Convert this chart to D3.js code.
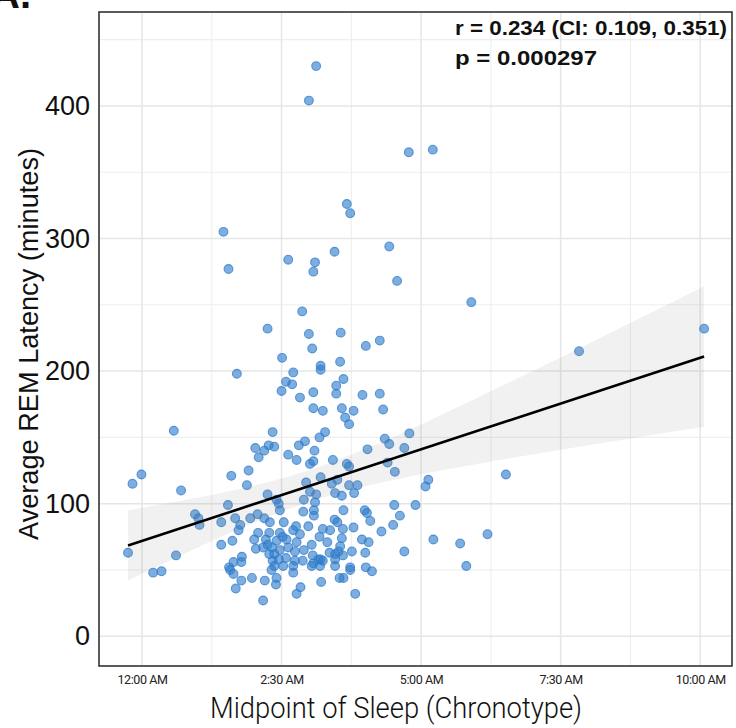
<!DOCTYPE html>
<html>
<head>
<meta charset="utf-8">
<script src="https://cdn.jsdelivr.net/npm/d3@7"></script>
<style>
  body { margin: 0; background: #fff; }
  svg { display: block; }
</style>
</head>
<body>
<svg id="chart" width="736" height="728"></svg>
<script>
// midpoint of sleep, hours after midnight (negative = before midnight)
var midSleep = [
  3.12, 2.99, 4.78, 5.21, 3.67, 3.73, 1.46, 3.45, 4.43, 2.62, 3.10, 3.07, 1.55, 4.57, 5.90, 2.87,
  2.25, 2.99, 3.56, 4.01, 4.26, 3.05, 2.51, 3.20, 3.55, 7.83, 10.07, 1.70, 2.71, 2.58, 2.69, 2.50,
  2.83, 2.34, 2.03, 2.19, 2.27, 2.37, 2.09, 2.62, 2.77, 2.81, 2.92, 1.91, 1.60, 1.88, 0.70, 2.25,
  2.94, 3.20, 3.61, 3.48, 3.48, 3.07, 3.95, 4.26, 3.07, 3.24, 3.58, 3.79, 3.64, 3.71, 4.32, 3.28,
  3.18, 3.09, 3.07, 3.01, 3.42, 3.67, 3.71, 4.04, 4.35, 4.43, 4.79, 4.70, 4.40, 4.53, 3.20, 3.50,
  3.40, 3.71, 3.86, 3.01, 3.12, 3.46, 3.58, 3.80, 5.13, 5.08, 6.52, 5.22, 5.70, 6.19, 5.81, 0.57,
  -0.01, -0.17, -0.25, 0.61, 0.20, 0.35, 2.41, 2.45, 2.47, 2.90, 2.89, 1.54, 0.95, 1.01, 1.03, 1.42,
  1.67, 1.76, 1.73, 1.94, 2.07, 2.19, 2.29, 2.54, 2.76, 2.08, 2.28, 2.47, 2.52, 2.71, 2.83, 2.01,
  2.22, 2.25, 2.41, 2.59, 2.77, 1.42, 1.62, 2.04, 2.17, 2.33, 2.47, 2.62, 2.74, 2.90, 2.28, 2.37,
  2.45, 2.58, 2.74, 2.88, 1.79, 1.78, 1.64, 1.56, 1.58, 1.64, 2.34, 2.37, 2.53, 2.71, 2.71, 2.32,
  1.78, 1.97, 2.20, 2.41, 2.40, 1.68, 2.77, 2.84, 2.17, 3.10, 3.08, 3.08, 3.61, 3.99, 4.03, 4.09,
  4.52, 4.90, 4.62, 4.50, 4.29, 3.45, 3.50, 2.98, 3.24, 3.37, 3.60, 3.79, 3.18, 3.32, 3.58, 3.94,
  4.06, 3.04, 3.55, 3.52, 3.36, 3.76, 4.00, 4.70, 3.06, 3.16, 3.20, 3.24, 3.46, 3.60, 3.07, 3.19,
  3.46, 3.46, 3.73, 3.73, 4.01, 4.12, 3.04, 3.21, 3.54, 3.61, 3.82
];
// average REM latency, minutes
var remLatency = [
  430, 404, 365, 367, 326, 319, 305, 290, 294, 284, 282, 275, 277, 268, 252, 245,
  232, 228, 229, 219, 223, 217, 210, 204, 207, 215, 232, 198, 199, 192, 190, 185,
  180, 154, 142, 140, 144, 143, 135, 137, 133, 144, 147, 125, 121, 114, 110, 107,
  116, 201, 194, 189, 183, 184, 182, 183, 172, 170, 172, 170, 165, 160, 171, 154,
  150, 140, 132, 130, 133, 130, 128, 141, 149, 145, 153, 142, 131, 124, 120, 118,
  115, 114, 114, 109, 107, 108, 106, 108, 118, 113, 122, 73, 70, 77, 53, 155,
  122, 115, 63, 61, 48, 49, 103, 100, 95, 103, 94, 99, 92, 89, 84, 86,
  89, 84, 80, 89, 92, 89, 86, 86, 83, 78, 78, 78, 75, 80, 77, 73,
  73, 69, 72, 73, 71, 69, 72, 66, 67, 67, 65, 67, 64, 65, 62, 62,
  58, 59, 57, 57, 60, 56, 56, 52, 50, 47, 57, 53, 53, 53, 48, 50,
  42, 44, 42, 44, 39, 36, 32, 37, 27, 101, 95, 91, 95, 95, 93, 87,
  99, 99, 91, 84, 79, 88, 86, 83, 81, 80, 81, 82, 75, 71, 74, 73,
  71, 69, 68, 64, 63, 64, 63, 64, 61, 58, 58, 57, 62, 61, 55, 53,
  58, 53, 52, 50, 52, 49, 53, 41, 44, 44, 32
];

// fitted line and its confidence band
var fitHours = [-0.25, 10.07];
var fitValues = [68.5, 211];
var bandHours = [-0.25, 1, 2, 3, 4, 5, 6, 7, 8, 9, 10.07];
var bandLow  = [42, 67, 85.6, 101.5, 113.2, 122.2, 129.9, 137.1, 144.1, 150.9, 158];
var bandHigh = [95, 104.6, 113.6, 125.3, 141.2, 159.8, 179.7, 200.1, 220.7, 241.5, 264];

var xTicks = [0, 2.5, 5, 7.5, 10];
var xTickLabels = ["12:00 AM", "2:30 AM", "5:00 AM", "7:30 AM", "10:00 AM"];
var xMinor = [1.25, 3.75, 6.25, 8.75];
var yTicks = [0, 100, 200, 300, 400];
var yMinor = [50, 150, 250, 350, 450];

var statLines = ["r = 0.234 (CI: 0.109, 0.351)", "p = 0.000297"];

var svg = d3.select("#chart");

var panelLeft = 99, panelRight = 732, panelTop = 12, panelBottom = 666;

var x = d3.scaleLinear().domain([-0.77, 10.57]).range([panelLeft, panelRight]);
var y = d3.scaleLinear().domain([-22.4, 470.8]).range([panelBottom, panelTop]);

svg.append("rect").attr("width", 736).attr("height", 728).attr("fill", "#fff");

// grid
var grid = svg.append("g");
grid.selectAll(".vminor").data(xMinor).enter().append("line")
  .attr("x1", d => x(d)).attr("x2", d => x(d))
  .attr("y1", panelTop).attr("y2", panelBottom)
  .attr("stroke", "#eeeeee").attr("stroke-width", 1.1);
grid.selectAll(".hminor").data(yMinor).enter().append("line")
  .attr("x1", panelLeft).attr("x2", panelRight)
  .attr("y1", d => y(d)).attr("y2", d => y(d))
  .attr("stroke", "#eeeeee").attr("stroke-width", 1.1);
grid.selectAll(".vmajor").data(xTicks).enter().append("line")
  .attr("x1", d => x(d)).attr("x2", d => x(d))
  .attr("y1", panelTop).attr("y2", panelBottom)
  .attr("stroke", "#e6e6e6").attr("stroke-width", 1.5);
grid.selectAll(".hmajor").data(yTicks).enter().append("line")
  .attr("x1", panelLeft).attr("x2", panelRight)
  .attr("y1", d => y(d)).attr("y2", d => y(d))
  .attr("stroke", "#e6e6e6").attr("stroke-width", 1.5);

// points
svg.append("g").selectAll("circle")
  .data(midSleep.map((h, i) => ({h: h, v: remLatency[i]})))
  .enter().append("circle")
  .attr("cx", d => x(d.h))
  .attr("cy", d => y(d.v))
  .attr("r", 4.4)
  .attr("fill", "#2f7ccb")
  .attr("fill-opacity", 0.62)
  .attr("stroke", "#2f7ccb")
  .attr("stroke-opacity", 0.75)
  .attr("stroke-width", 1.1);

// confidence band
var band = d3.area()
  .x((d, i) => x(bandHours[i]))
  .y0((d, i) => y(bandLow[i]))
  .y1((d, i) => y(bandHigh[i]))
  .curve(d3.curveMonotoneX);
svg.append("path").datum(bandHours)
  .attr("d", band)
  .attr("fill", "#808080")
  .attr("fill-opacity", 0.11);

// fitted line
var line = d3.line()
  .x((d, i) => x(fitHours[i]))
  .y((d, i) => y(fitValues[i]));
svg.append("path").datum(fitHours)
  .attr("d", line)
  .attr("fill", "none")
  .attr("stroke", "#000")
  .attr("stroke-width", 2.6);

// panel border
svg.append("rect")
  .attr("x", panelLeft).attr("y", panelTop)
  .attr("width", panelRight - panelLeft).attr("height", panelBottom - panelTop)
  .attr("fill", "none").attr("stroke", "#333").attr("stroke-width", 1.6);

// axes
var xAxis = d3.axisBottom(x).tickValues(xTicks)
  .tickFormat((d, i) => xTickLabels[i]).tickSize(0).tickPadding(9);
var gx = svg.append("g").attr("transform", "translate(0," + panelBottom + ")").call(xAxis);
gx.select(".domain").remove();
gx.selectAll("text")
  .attr("font-family", "Roboto, sans-serif")
  .attr("font-size", 12.5)
  .attr("letter-spacing", "-0.4")
  .attr("fill", "#222");

var yAxis = d3.axisLeft(y).tickValues(yTicks).tickSize(0).tickPadding(9);
var gy = svg.append("g").attr("transform", "translate(" + panelLeft + ",0)").call(yAxis);
gy.select(".domain").remove();
gy.selectAll("text")
  .attr("font-family", "'Liberation Sans', Arial, sans-serif")
  .attr("font-size", 27)
  .attr("fill", "#111");

// axis titles
svg.append("text")
  .attr("x", 396).attr("y", 718)
  .attr("text-anchor", "middle")
  .attr("font-family", "Roboto, sans-serif")
  .attr("font-weight", 300)
  .attr("font-size", 29)
  .attr("textLength", 372)
  .attr("lengthAdjust", "spacingAndGlyphs")
  .attr("fill", "#111")
  .text("Midpoint of Sleep (Chronotype)");

svg.append("text")
  .attr("transform", "translate(38,344) rotate(-90)")
  .attr("text-anchor", "middle")
  .attr("font-family", "'Liberation Sans', Arial, sans-serif")
  .attr("font-size", 27)
  .attr("textLength", 392)
  .attr("lengthAdjust", "spacingAndGlyphs")
  .attr("fill", "#111")
  .text("Average REM Latency (minutes)");

// stats annotation
svg.append("g").selectAll("text").data(statLines).enter().append("text")
  .attr("x", 455)
  .attr("y", (d, i) => 35 + i * 30)
  .attr("font-family", "'Liberation Sans', Arial, sans-serif")
  .attr("font-weight", "bold")
  .attr("font-size", 20)
  .attr("textLength", (d, i) => i === 0 ? 272 : 142)
  .attr("lengthAdjust", "spacingAndGlyphs")
  .attr("fill", "#111")
  .text(d => d);

// panel letter, cut off at the top edge
svg.append("text")
  .attr("x", -9).attr("y", 8)
  .attr("font-family", "'Liberation Sans', Arial, sans-serif")
  .attr("font-weight", "bold")
  .attr("font-size", 40)
  .attr("fill", "#111")
  .text("A.");
</script>
</body>
</html>
